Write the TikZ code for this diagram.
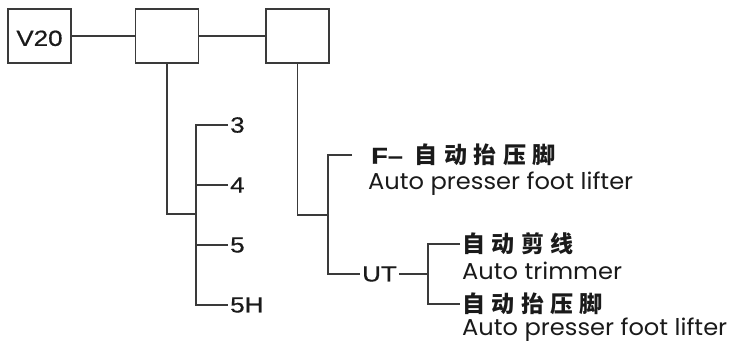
\documentclass[tikz,border=0pt]{standalone}
\usepackage{fontspec}
\setmainfont{Liberation Sans}
\newfontfamily\labelfont{Liberation Sans}[FakeStretch=1.18, FakeBold=0.6]
\newfontfamily\engfont{Poppins}[FakeStretch=1.05]
\newfontfamily\cjk{Noto Sans CJK SC}[LetterSpace=28]
\usetikzlibrary{positioning}
\definecolor{lines}{HTML}{3A3A3A}
\definecolor{ink}{HTML}{1A1A1A}

\begin{document}
\begin{tikzpicture}[x=1pt, y=-1pt, node distance=63pt, text=ink]
                \tikzset{
                    box/.style={draw=lines, line width=1.6pt, minimum width=63pt, minimum height=54pt, inner sep=0pt, text height=20pt, font=\labelfont\fontsize{22}{26}\selectfont},
                    num/.style={anchor=west, inner xsep=2pt, font=\labelfont\fontsize{22}{26}\selectfont},
                    title/.style={anchor=west, inner xsep=2pt, font=\cjk\bfseries\fontsize{23}{27}\selectfont},
                    sub/.style={anchor=west, inner xsep=0pt, font=\engfont\fontsize{23}{27}\selectfont},
                    conn/.style={draw=lines, line width=1.6pt}
                }
                \useasboundingbox (0,0) rectangle (741,348);

                % MODEL BOXES
                \node[box] (v20) at (39.5,36) {V20};
                \node[box] (b1) [right=of v20] {};
                \node[box] (b2) at (297.5,36) {};

                % SERIES
                \node[num] (s3) at (228,125) {3};
                \node[num] (s4) at (228,185) {4};
                \node[num] (s5) at (228,245) {5};
                \node[num] (s5h) at (228,305) {5H};
                \coordinate (sj) at (196,214);

                % OPTIONS
                \node[title, inner xsep=19pt] (fcn) at (352,155) {{\labelfont\bfseries F–}\hspace{12pt}\cjk 自动抬压脚};
                \node[sub] (fen) at (368,184) {Auto presser foot lifter};
                \node[num] (ut) at (360,274) {UT};
                \coordinate (oj) at (328,215);
                \coordinate (uj) at (428,274);
                \node[title] (tcn) at (460,244) {自动剪线};
                \node[sub] (ten) at (462,271) {Auto trimmer};
                \node[title] (lcn) at (460,304) {自动抬压脚};
                \node[sub] (len) at (462,330) {Auto presser foot lifter};

                % CONNECTORS
                \path[conn]
                    (v20) edge (b1)
                    (b1) edge (b2);
                \draw[conn] (b1.south) |- (sj);
                \draw[conn] (s3.west) -| (sj) |- (s5h.west);
                \draw[conn] (s4.west) -- (s4.west -| sj);
                \draw[conn] (s5.west) -- (s5.west -| sj);
                \draw[conn] (b2.south) |- (oj);
                \draw[conn] (fcn.west) -| (oj) |- (ut.west);
                \draw[conn] (ut) -- (uj);
                \draw[conn] (tcn.west) -| (uj) |- (lcn.west);

            \end{tikzpicture}
\end{document}
